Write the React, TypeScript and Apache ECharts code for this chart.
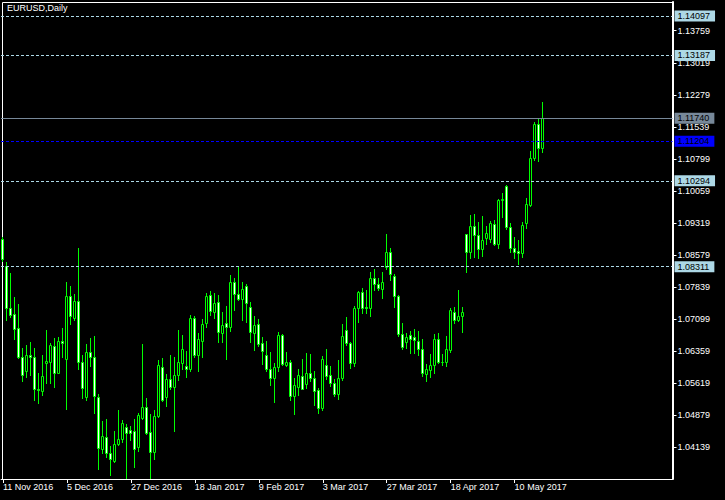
import React, { useEffect, useRef } from 'react';
import * as echarts from 'echarts';

// [open, high, low, close] per daily bar, starting 11 Nov 2016
const OHLC: [number, number, number, number][] = [
  [1.0895, 1.0900, 1.0845, 1.0849],
  [1.0833, 1.0842, 1.0709, 1.0735],
  [1.0735, 1.0817, 1.0714, 1.0719],
  [1.0721, 1.0762, 1.0665, 1.0687],
  [1.0689, 1.0745, 1.0619, 1.0622],
  [1.0622, 1.0644, 1.0568, 1.0582],
  [1.0591, 1.0650, 1.0577, 1.0626],
  [1.0627, 1.0657, 1.0581, 1.0623],
  [1.0622, 1.0644, 1.0523, 1.0549],
  [1.0549, 1.0585, 1.0517, 1.0546],
  [1.0545, 1.0627, 1.0535, 1.0579],
  [1.0608, 1.0685, 1.0562, 1.0613],
  [1.0610, 1.0654, 1.0563, 1.0650],
  [1.0648, 1.0667, 1.0552, 1.0586],
  [1.0586, 1.0668, 1.0585, 1.0659],
  [1.0659, 1.0690, 1.0623, 1.0654],
  [1.0617, 1.0796, 1.0503, 1.0763],
  [1.0763, 1.0787, 1.0698, 1.0718],
  [1.0713, 1.0768, 1.0708, 1.0752],
  [1.0752, 1.0875, 1.0595, 1.0612],
  [1.0610, 1.0628, 1.0527, 1.0550],
  [1.0531, 1.0652, 1.0523, 1.0633],
  [1.0633, 1.0667, 1.0602, 1.0623],
  [1.0623, 1.0671, 1.0494, 1.0533],
  [1.0529, 1.0538, 1.0364, 1.0412],
  [1.0409, 1.0475, 1.0400, 1.0440],
  [1.0437, 1.0479, 1.0391, 1.0400],
  [1.0400, 1.0417, 1.0350, 1.0386],
  [1.0383, 1.0452, 1.0381, 1.0421],
  [1.0421, 1.0500, 1.0419, 1.0434],
  [1.0432, 1.0477, 1.0425, 1.0469],
  [1.0460, 1.0467, 1.0341, 1.0448],
  [1.0455, 1.0462, 1.0431, 1.0448],
  [1.0452, 1.0479, 1.0369, 1.0409],
  [1.0415, 1.0492, 1.0406, 1.0488],
  [1.0482, 1.0652, 1.0479, 1.0506],
  [1.0508, 1.0528, 1.0444, 1.0448],
  [1.0450, 1.0491, 1.0341, 1.0404],
  [1.0404, 1.0500, 1.0387, 1.0486],
  [1.0486, 1.0616, 1.0483, 1.0605],
  [1.0600, 1.0619, 1.0520, 1.0522],
  [1.0529, 1.0583, 1.0509, 1.0571],
  [1.0571, 1.0627, 1.0548, 1.0552],
  [1.0552, 1.0623, 1.0452, 1.0582],
  [1.0582, 1.0685, 1.0569, 1.0610],
  [1.0609, 1.0673, 1.0595, 1.0642],
  [1.0602, 1.0636, 1.0577, 1.0594],
  [1.0594, 1.0719, 1.0589, 1.0712],
  [1.0712, 1.0716, 1.0623, 1.0627],
  [1.0627, 1.0677, 1.0589, 1.0663],
  [1.0660, 1.0710, 1.0623, 1.0699],
  [1.0700, 1.0771, 1.0692, 1.0763],
  [1.0766, 1.0775, 1.0719, 1.0729],
  [1.0727, 1.0771, 1.0712, 1.0746],
  [1.0749, 1.0765, 1.0656, 1.0681],
  [1.0679, 1.0727, 1.0658, 1.0696],
  [1.0702, 1.0740, 1.0618, 1.0691],
  [1.0691, 1.0812, 1.0683, 1.0796],
  [1.0795, 1.0806, 1.0730, 1.0767],
  [1.0767, 1.0833, 1.0754, 1.0757],
  [1.0757, 1.0796, 1.0708, 1.0779],
  [1.0786, 1.0791, 1.0704, 1.0748],
  [1.0739, 1.0749, 1.0658, 1.0681],
  [1.0679, 1.0716, 1.0639, 1.0696],
  [1.0699, 1.0710, 1.0648, 1.0652],
  [1.0654, 1.0668, 1.0606, 1.0637],
  [1.0627, 1.0659, 1.0590, 1.0595],
  [1.0595, 1.0633, 1.0558, 1.0575],
  [1.0573, 1.0608, 1.0519, 1.0599],
  [1.0599, 1.0681, 1.0589, 1.0673],
  [1.0673, 1.0676, 1.0604, 1.0606],
  [1.0604, 1.0635, 1.0602, 1.0611],
  [1.0610, 1.0616, 1.0523, 1.0533],
  [1.0533, 1.0573, 1.0491, 1.0558],
  [1.0552, 1.0595, 1.0535, 1.0580],
  [1.0578, 1.0618, 1.0548, 1.0549],
  [1.0560, 1.0631, 1.0550, 1.0585],
  [1.0585, 1.0629, 1.0568, 1.0575],
  [1.0573, 1.0590, 1.0511, 1.0545],
  [1.0546, 1.0550, 1.0494, 1.0505],
  [1.0505, 1.0625, 1.0500, 1.0617],
  [1.0604, 1.0641, 1.0572, 1.0579],
  [1.0580, 1.0602, 1.0556, 1.0563],
  [1.0563, 1.0571, 1.0533, 1.0538],
  [1.0538, 1.0616, 1.0525, 1.0575],
  [1.0573, 1.0699, 1.0569, 1.0671],
  [1.0685, 1.0714, 1.0650, 1.0654],
  [1.0654, 1.0658, 1.0598, 1.0608],
  [1.0608, 1.0740, 1.0602, 1.0735],
  [1.0735, 1.0775, 1.0704, 1.0772],
  [1.0772, 1.0781, 1.0723, 1.0736],
  [1.0737, 1.0777, 1.0723, 1.0736],
  [1.0736, 1.0819, 1.0718, 1.0806],
  [1.0806, 1.0825, 1.0776, 1.0791],
  [1.0792, 1.0804, 1.0776, 1.0782],
  [1.0779, 1.0819, 1.0759, 1.0795],
  [1.0831, 1.0906, 1.0826, 1.0864],
  [1.0864, 1.0873, 1.0800, 1.0813],
  [1.0810, 1.0813, 1.0739, 1.0764],
  [1.0764, 1.0766, 1.0672, 1.0675],
  [1.0675, 1.0702, 1.0642, 1.0645],
  [1.0658, 1.0679, 1.0644, 1.0668],
  [1.0673, 1.0682, 1.0632, 1.0665],
  [1.0669, 1.0688, 1.0631, 1.0662],
  [1.0660, 1.0683, 1.0627, 1.0642],
  [1.0642, 1.0665, 1.0579, 1.0586],
  [1.0583, 1.0606, 1.0568, 1.0594],
  [1.0592, 1.0629, 1.0577, 1.0604],
  [1.0604, 1.0675, 1.0586, 1.0663],
  [1.0663, 1.0678, 1.0608, 1.0612],
  [1.0611, 1.0629, 1.0605, 1.0612],
  [1.0610, 1.0671, 1.0602, 1.0640],
  [1.0638, 1.0735, 1.0635, 1.0731],
  [1.0727, 1.0737, 1.0700, 1.0709],
  [1.0709, 1.0777, 1.0706, 1.0717],
  [1.0716, 1.0737, 1.0681, 1.0726],
  [1.0906, 1.0906, 1.0819, 1.0866],
  [1.0866, 1.0950, 1.0850, 1.0925],
  [1.0925, 1.0953, 1.0854, 1.0903],
  [1.0904, 1.0935, 1.0852, 1.0871],
  [1.0871, 1.0948, 1.0856, 1.0893],
  [1.0898, 1.0925, 1.0883, 1.0908],
  [1.0896, 1.0936, 1.0889, 1.0933],
  [1.0929, 1.0939, 1.0881, 1.0883],
  [1.0883, 1.0987, 1.0875, 1.0985],
  [1.0985, 1.1002, 1.0946, 1.0987],
  [1.1017, 1.1020, 1.0917, 1.0923],
  [1.0923, 1.0933, 1.0864, 1.0873],
  [1.0873, 1.0900, 1.0850, 1.0866],
  [1.0867, 1.0893, 1.0837, 1.0862],
  [1.0862, 1.0935, 1.0854, 1.0927],
  [1.0931, 1.0989, 1.0921, 1.0975],
  [1.0973, 1.1098, 1.0972, 1.1083],
  [1.1083, 1.1164, 1.1077, 1.1160],
  [1.1160, 1.1175, 1.1075, 1.1104],
  [1.1104, 1.1212, 1.1096, 1.1174],
];

const Y_TICKS = [
  1.04139, 1.04879, 1.05619, 1.06359, 1.07099, 1.07839, 1.08579,
  1.09319, 1.10059, 1.10799, 1.11539, 1.12279, 1.13019, 1.13759,
];

const DASHED_LEVELS = [1.14097, 1.13187, 1.10294, 1.08311];
const BID_LEVEL = 1.1174;
const BLUE_LEVEL = 1.11204;
const TITLE = 'EURUSD,Daily';
const MONTHS = ['Jan', 'Feb', 'Mar', 'Apr', 'May', 'Jun', 'Jul', 'Aug', 'Sep', 'Oct', 'Nov', 'Dec'];
const FIRST_DAY = [2016, 10, 11];
const SLOTS = 168; // bars that fit in the chart window (incl. empty right shift)
const LABEL_EVERY = 16;

function buildDates(n: number): string[] {
  const out: string[] = [];
  const d = new Date(FIRST_DAY[0], FIRST_DAY[1], FIRST_DAY[2]);
  while (out.length < n) {
    const wd = d.getDay();
    if (wd !== 0 && wd !== 6) {
      out.push(`${d.getDate()} ${MONTHS[d.getMonth()]} ${d.getFullYear()}`);
    }
    d.setDate(d.getDate() + 1);
  }
  return out;
}

export default function App() {
  const ref = useRef<HTMLDivElement>(null);

  useEffect(() => {
    if (!ref.current) return;
    const chart = echarts.init(ref.current, null, { renderer: 'svg' });
    const font = 'Liberation Sans';
    const cats = buildDates(SLOTS);
    const showIdx = (i: number) => i % LABEL_EVERY === 0 && i < OHLC.length;

    const boxLabel = (bg: string, fg: string) => ({
      show: true,
      position: 'end',
      distance: 2,
      formatter: (p: any) => Number(p.value).toFixed(5),
      backgroundColor: bg,
      color: fg,
      fontFamily: font,
      fontSize: 9,
      lineHeight: 10,
      padding: [1, 5, 0, 3],
    });

    const LIME = '#00ff00';

    const renderCandle = (params: any, api: any) => {
      const k = api.value(0);
      const o = api.value(1);
      const h = api.value(2);
      const l = api.value(3);
      const c = api.value(4);
      const pH = api.coord([k, h]);
      const pL = api.coord([k, l]);
      const pO = api.coord([k, o]);
      const pC = api.coord([k, c]);
      const cx = Math.floor(pH[0]) + 0.5;
      const yTop = Math.round(Math.min(pO[1], pC[1])) + 0.5;
      const yBot = Math.round(Math.max(pO[1], pC[1])) + 0.5;
      const bear = c < o;
      return {
        type: 'group',
        children: [
          {
            type: 'line',
            shape: { x1: cx, y1: Math.round(pH[1]), x2: cx, y2: Math.round(pL[1]) + 1 },
            style: { stroke: LIME, lineWidth: 1 },
          },
          {
            type: 'rect',
            shape: { x: cx - 1, y: yTop, width: 2, height: Math.max(yBot - yTop, 0) },
            style: { fill: bear ? '#ffffff' : '#000000', stroke: LIME, lineWidth: 1 },
          },
        ],
      };
    };

    chart.setOption({
      animation: false,
      backgroundColor: '#000',
      grid: { left: 0.5, top: 2, width: 672, height: 477, containLabel: false },
      xAxis: {
        type: 'category',
        data: cats,
        boundaryGap: true,
        axisLine: { show: true, lineStyle: { color: '#fff', width: 1 } },
        axisTick: {
          show: true,
          alignWithLabel: true,
          length: 4,
          interval: (i: number) => showIdx(i),
          lineStyle: { color: '#fff' },
        },
        axisLabel: {
          interval: (i: number) => showIdx(i),
          align: 'left',
          margin: 3,
          color: '#fff',
          fontFamily: font,
          fontSize: 9,
        },
        splitLine: { show: false },
      },
      yAxis: {
        type: 'value',
        position: 'right',
        min: 1.03407,
        max: 1.14422,
        axisLine: { show: true, lineStyle: { color: '#fff', width: 2 } },
        axisTick: { show: true, length: 4, customValues: Y_TICKS, lineStyle: { color: '#fff' } },
        axisLabel: {
          customValues: Y_TICKS,
          formatter: (v: number) => v.toFixed(5),
          margin: 5,
          color: '#fff',
          fontFamily: font,
          fontSize: 9,
        },
        splitLine: { show: false },
      },
      graphic: [
        {
          type: 'rect',
          z: 1,
          shape: { x: 2.5, y: 2.5, width: 670, height: 477 },
          style: { fill: 'none', stroke: '#fff', lineWidth: 1 },
          silent: true,
        },
        {
          type: 'text',
          z: 10,
          x: 7,
          y: 3,
          style: {
            text: TITLE,
            fill: '#fff',
            font: `9px "${font}"`,
            verticalAlign: 'top',
          },
          silent: true,
        },
      ],
      series: [
        {
          type: 'custom',
          renderItem: renderCandle,
          clip: true,
          encode: { x: 0, y: [1, 2, 3, 4] },
          data: OHLC.map(([o, h, l, c], i) => [i, o, h, l, c]),
          z: 3,
          markLine: {
            silent: true,
            symbol: ['none', 'none'],
            precision: 5,
            animation: false,
            data: [
              ...DASHED_LEVELS.map((v) => ({
                yAxis: v,
                lineStyle: { color: '#ADD8E6', type: [3, 2], width: 1 },
                label: boxLabel('#ADD8E6', '#000'),
              })),
              {
                yAxis: BID_LEVEL,
                lineStyle: { color: '#778899', type: 'solid', width: 1 },
                label: boxLabel('#778899', '#000'),
              },
              {
                yAxis: BLUE_LEVEL,
                lineStyle: { color: '#0000ff', type: [3, 2], width: 1 },
                label: boxLabel('#0000ff', '#000'),
              },
            ],
          },
        },
      ],
    });

    return () => chart.dispose();
  }, []);

  return (
    <div
      ref={ref}
      style={{ position: 'fixed', left: 0, top: 0, width: 725, height: 500, background: '#000' }}
    />
  );
}
